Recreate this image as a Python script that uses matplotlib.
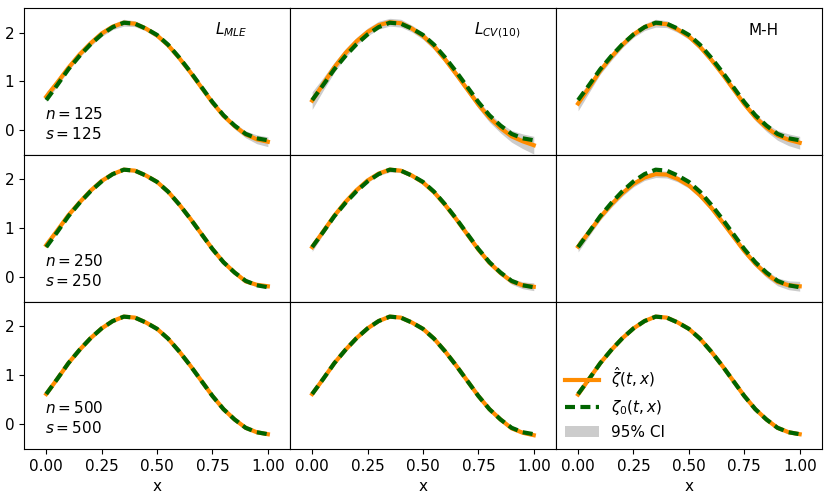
import numpy as np
import matplotlib
matplotlib.use("Agg")
import matplotlib.pyplot as plt

# -------------------------------
# DATA
# -------------------------------
x_grid = np.linspace(0, 1, 21)

# true function zeta_0(t, x)
zeta_true = [0.62, 0.93, 1.25, 1.52, 1.76, 1.96, 2.11, 2.20, 2.18, 2.08, 1.95,
             1.75, 1.49, 1.20, 0.89, 0.58, 0.31, 0.10, -0.07, -0.16, -0.20]

methods = [r"$L_{MLE}$", r"$L_{CV(10)}$", "M-H"]
sample_sizes = [125, 250, 500]

# estimates zeta_hat, rows = n, cols = method
est = {
    (125, 0): [0.69, 0.98, 1.28, 1.55, 1.78, 1.98, 2.12, 2.20, 2.18, 2.08, 1.94,
               1.74, 1.48, 1.19, 0.88, 0.57, 0.30, 0.09, -0.08, -0.18, -0.23],
    (125, 1): [0.61, 0.95, 1.29, 1.58, 1.82, 2.01, 2.15, 2.21, 2.19, 2.08, 1.93,
               1.72, 1.45, 1.15, 0.84, 0.53, 0.26, 0.05, -0.12, -0.22, -0.30],
    (125, 2): [0.55, 0.88, 1.22, 1.50, 1.75, 1.96, 2.11, 2.19, 2.17, 2.06, 1.92,
               1.71, 1.45, 1.16, 0.85, 0.54, 0.27, 0.06, -0.10, -0.19, -0.25],
    (250, 0): [0.66, 0.96, 1.27, 1.53, 1.77, 1.97, 2.11, 2.20, 2.18, 2.08, 1.95,
               1.75, 1.49, 1.20, 0.89, 0.58, 0.31, 0.10, -0.08, -0.15, -0.18],
    (250, 1): [0.62, 0.94, 1.26, 1.54, 1.78, 1.98, 2.12, 2.20, 2.18, 2.08, 1.94,
               1.74, 1.48, 1.19, 0.88, 0.57, 0.30, 0.09, -0.08, -0.16, -0.19],
    (250, 2): [0.63, 0.93, 1.23, 1.49, 1.72, 1.91, 2.04, 2.11, 2.10, 2.01, 1.88,
               1.68, 1.43, 1.14, 0.84, 0.54, 0.28, 0.07, -0.09, -0.16, -0.18],
    (500, 0): [0.62, 0.93, 1.25, 1.52, 1.76, 1.96, 2.11, 2.20, 2.18, 2.08, 1.95,
               1.75, 1.49, 1.20, 0.89, 0.58, 0.31, 0.10, -0.07, -0.16, -0.20],
    (500, 1): [0.62, 0.93, 1.25, 1.52, 1.76, 1.96, 2.11, 2.20, 2.18, 2.08, 1.95,
               1.75, 1.49, 1.20, 0.89, 0.58, 0.31, 0.10, -0.08, -0.17, -0.22],
    (500, 2): [0.61, 0.93, 1.25, 1.52, 1.76, 1.96, 2.11, 2.20, 2.18, 2.08, 1.95,
               1.75, 1.49, 1.20, 0.89, 0.58, 0.31, 0.10, -0.07, -0.16, -0.20],
}

# half widths of the 95% CI
ci_half = {
    (125, 0): [0.10, 0.07, 0.06, 0.06, 0.06, 0.06, 0.06, 0.07, 0.06, 0.05, 0.05,
               0.05, 0.05, 0.05, 0.05, 0.05, 0.05, 0.06, 0.07, 0.09, 0.10],
    (125, 1): [0.18, 0.13, 0.10, 0.09, 0.08, 0.08, 0.08, 0.08, 0.08, 0.07, 0.07,
               0.07, 0.07, 0.07, 0.07, 0.08, 0.09, 0.10, 0.12, 0.15, 0.18],
    (125, 2): [0.15, 0.10, 0.07, 0.07, 0.06, 0.06, 0.07, 0.08, 0.07, 0.06, 0.06,
               0.06, 0.06, 0.06, 0.06, 0.06, 0.07, 0.08, 0.10, 0.12, 0.13],
    (250, 0): [0.04, 0.03, 0.03, 0.03, 0.03, 0.03, 0.03, 0.03, 0.03, 0.03, 0.03,
               0.03, 0.03, 0.03, 0.03, 0.03, 0.03, 0.03, 0.03, 0.04, 0.04],
    (250, 1): [0.09, 0.06, 0.05, 0.04, 0.04, 0.04, 0.04, 0.05, 0.04, 0.04, 0.04,
               0.04, 0.04, 0.04, 0.04, 0.04, 0.04, 0.05, 0.06, 0.07, 0.08],
    (250, 2): [0.11, 0.08, 0.06, 0.06, 0.06, 0.06, 0.06, 0.07, 0.07, 0.06, 0.06,
               0.06, 0.06, 0.06, 0.06, 0.06, 0.06, 0.07, 0.08, 0.09, 0.10],
    (500, 0): [0.02] * 21,
    (500, 1): [0.03, 0.02, 0.02, 0.02, 0.02, 0.02, 0.02, 0.02, 0.02, 0.02, 0.02,
               0.02, 0.02, 0.02, 0.02, 0.02, 0.02, 0.02, 0.02, 0.03, 0.03],
    (500, 2): [0.03, 0.02, 0.02, 0.02, 0.02, 0.02, 0.02, 0.02, 0.02, 0.02, 0.02,
               0.02, 0.02, 0.02, 0.02, 0.02, 0.02, 0.02, 0.02, 0.03, 0.03],
}

x_ticks = [0.00, 0.25, 0.50, 0.75, 1.00]
y_ticks = [0, 1, 2]

# -------------------------------
# PLOT
# -------------------------------
plt.rcParams["font.size"] = 11
fig, axes = plt.subplots(3, 3, figsize=(8.31, 5.01), dpi=100, sharex=True, sharey=True)
fig.subplots_adjust(left=0.029, right=0.989, top=0.984, bottom=0.104, wspace=0, hspace=0)

for i, n in enumerate(sample_sizes):
    for j in range(3):
        ax = axes[i, j]
        e = np.array(est[(n, j)])
        h = np.array(ci_half[(n, j)])
        ax.fill_between(x_grid, e - h, e + h, color="grey", alpha=0.4, lw=0, label="95% CI")
        ax.plot(x_grid, e, color="darkorange", lw=3, label=r"$\hat{\zeta}(t,x)$")
        ax.plot(x_grid, zeta_true, color="darkgreen", lw=3, ls="--", dashes=(2.4, 1.3),
                label=r"$\zeta_0(t,x)$")
        if i == 0:
            ax.text(0.78, 0.85, methods[j], transform=ax.transAxes, ha="center", va="center",
                    fontsize=11)
        if j == 0:
            ax.text(0.08, 0.21, f"$n={n}$\n$s={n}$", transform=ax.transAxes,
                    ha="left", va="center", fontsize=11, linespacing=1.3)
        if i == 2:
            ax.set_xlabel("x")
        # inner panels carry no tick marks
        if j > 0:
            ax.tick_params(axis="y", length=0)
        if i < 2:
            ax.tick_params(axis="x", length=0)

axes[0, 0].set_xlim(-0.1, 1.1)
axes[0, 0].set_ylim(-0.5, 2.5)
axes[0, 0].set_xticks(x_ticks)
axes[0, 0].set_yticks(y_ticks)

handles, labels = axes[2, 2].get_legend_handles_labels()
order = [1, 2, 0]
axes[2, 2].legend([handles[k] for k in order], [labels[k] for k in order],
                  loc="lower left", frameon=False, fontsize=11, handlelength=2.2,
                  borderaxespad=0.2)

plt.savefig("out.png", dpi=100)
